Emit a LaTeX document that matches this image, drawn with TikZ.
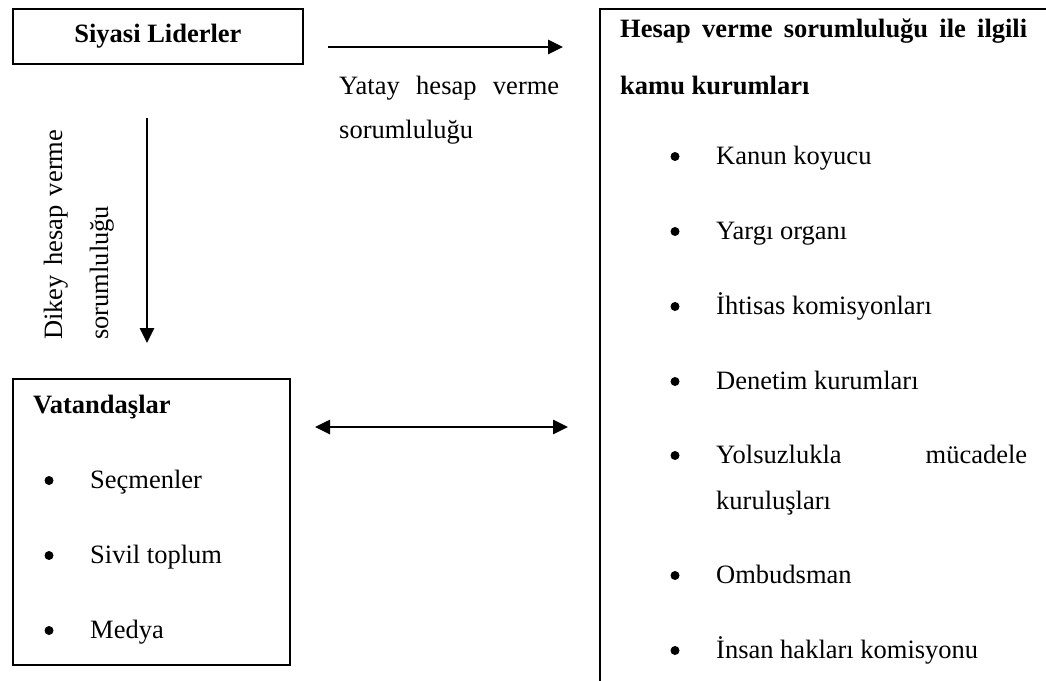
\documentclass[tikz,border=0pt]{standalone}
\usepackage{fontspec}
\setmainfont{Liberation Serif}
\usepackage{tikz}
\usetikzlibrary{arrows.meta,positioning}

\tikzset{
  kutu/.style={draw, line width=1.8pt, rectangle, anchor=north west, inner sep=0pt},
  ok/.style={line width=2.6pt, -{Triangle[length=15pt,width=14pt]}},
  ciftok/.style={line width=2.6pt, {Triangle[length=15pt,width=14pt]}-{Triangle[length=15pt,width=14pt]}},
  yazi/.style={anchor=base west, inner sep=0pt},
  nokta/.style={circle, fill, inner sep=0pt, minimum size=9pt},
}

\begin{document}
\begin{tikzpicture}[x=1pt, y=-1pt, every node/.style={font=\fontsize{26.5}{30}\selectfont}]
    \useasboundingbox (0,0) rectangle (1046,680);
    \clip (0,0) rectangle (1046,680);

    % Siyasi Liderler box
    \node[kutu, minimum width=290pt, minimum height=55pt] (lider) at (12,8) {};
    \node[inner sep=0pt] (liderT) at (lider.center) {\bfseries Siyasi Liderler};

    % Vatandaslar box
    \node[kutu, minimum width=277pt, minimum height=286pt] (vatandas) at (12,378) {};
    \node[yazi] (vatandasT) at (33,413) {\bfseries Vatandaşlar};
    \foreach \i/\y/\txt in {1/488/Seçmenler, 2/563/Sivil toplum, 3/638/Medya} {
        \node[nokta] (vb\i) at (49,\y-7.5) {};
        \node[yazi] (vt\i) at (90,\y) {\txt};
    }

    % kamu kurumlari box (runs off the page)
    \node[kutu, minimum width=480pt, minimum height=720pt] (kurum) at (599,8) {};
    \node[yazi] (kurumT1) at (620,37) {\makebox[407pt][s]{\bfseries Hesap verme sorumluluğu ile ilgili}};
    \node[yazi] (kurumT2) at (620,94) {\bfseries kamu kurumları};
    \foreach \i/\y/\txt in {1/164/Kanun koyucu, 2/239/Yargı organı, 3/314/İhtisas komisyonları,
                            4/389/Denetim kurumları, 5/583/Ombudsman, 6/658/İnsan hakları komisyonu} {
        \node[nokta] (kb\i) at (675,\y-7.5) {};
        \node[yazi] (kt\i) at (716,\y) {\txt};
    }
    \node[nokta] (kb7) at (675,455.5) {};
    \node[yazi] (kt7) at (716,463) {\makebox[311pt][s]{Yolsuzlukla mücadele}};
    \node[yazi] (kt7b) at (716,509) {kuruluşları};

    % yatay hesap verme
    \coordinate (yatayA) at (328,47);
    \coordinate (yatayB) at (563,47);
    \draw[ok] (yatayA) -- (yatayB);
    \node[yazi] (yatayT1) at (339,94) {\makebox[220pt][s]{Yatay hesap verme}};
    \node[yazi] (yatayT2) at (339,138) {sorumluluğu};

    % dikey hesap verme
    \coordinate (dikeyA) at (147,118);
    \coordinate (dikeyB) at (147,343);
    \draw[ok] (dikeyA) -- (dikeyB);
    \node[yazi, rotate=90] (dikeyT1) at (62,340) {\makebox[210pt][s]{Dikey hesap verme}};
    \node[yazi, rotate=90] (dikeyT2) at (108,340) {sorumluluğu};

    % iki yonlu ok
    \coordinate (ciftA) at (315,427);
    \coordinate (ciftB) at (568,427);
    \draw[ciftok] (ciftA) -- (ciftB);
\end{tikzpicture}
\end{document}
